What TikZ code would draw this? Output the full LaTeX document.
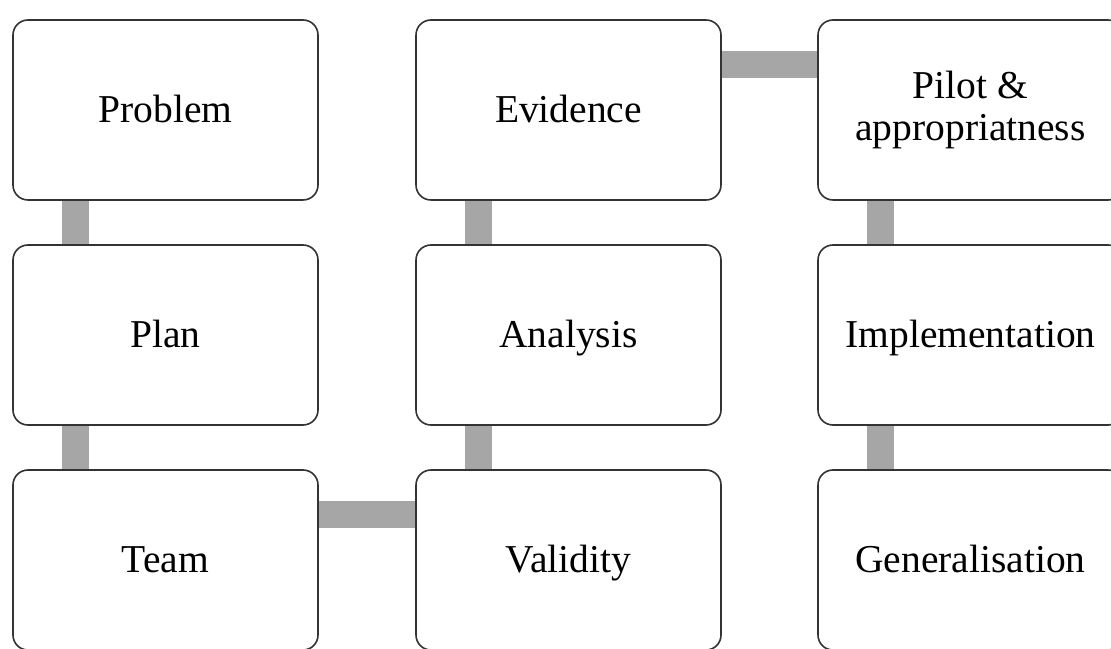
\documentclass[tikz,border=0pt]{standalone}
\usepackage{fontspec}
\setmainfont{Liberation Serif}
\begin{document}
\begin{tikzpicture}[x=1pt,y=1pt,
  stepbox/.style={draw=black!80, line width=1.6pt, fill=white, rounded corners=15pt,
    minimum width=305pt, minimum height=180pt, align=center, inner sep=0pt,
    font=\fontsize{39.5}{42}\selectfont},
  oneline/.style={stepbox, text height=30pt, text depth=4pt},
  conn/.style={draw=black!35, line width=27pt}]
\clip (0,0) rectangle (1111,648);
\useasboundingbox (0,0) rectangle (1111,648);
\node[oneline] (pr) at (165.5,538) {Problem};
\node[oneline] (pl) at (165.5,313) {Plan};
\node[oneline] (tm) at (165.5,88) {Team};
\node[oneline] (ev) at (568.5,538) {Evidence};
\node[oneline] (an) at (568.5,313) {Analysis};
\node[oneline] (va) at (568.5,88) {Validity};
\node[stepbox] (pi) at (970.5,538) {Pilot \&\\appropriatness};
\node[oneline] (im) at (970.5,313) {Implementation};
\node[oneline] (ge) at (970.5,88) {Generalisation};
\draw[conn] ([xshift=63pt]pr.south west) -- ([xshift=63pt]pl.north west);
\draw[conn] ([xshift=63pt]pl.south west) -- ([xshift=63pt]tm.north west);
\draw[conn] ([yshift=-45pt]tm.north east) -- ([yshift=-45pt]va.north west);
\draw[conn] ([xshift=63pt]va.north west) -- ([xshift=63pt]an.south west);
\draw[conn] ([xshift=63pt]an.north west) -- ([xshift=63pt]ev.south west);
\draw[conn] ([yshift=-45pt]ev.north east) -- ([yshift=-45pt]pi.north west);
\draw[conn] ([xshift=63pt]pi.south west) -- ([xshift=63pt]im.north west);
\draw[conn] ([xshift=63pt]im.south west) -- ([xshift=63pt]ge.north west);
\end{tikzpicture}
\end{document}
